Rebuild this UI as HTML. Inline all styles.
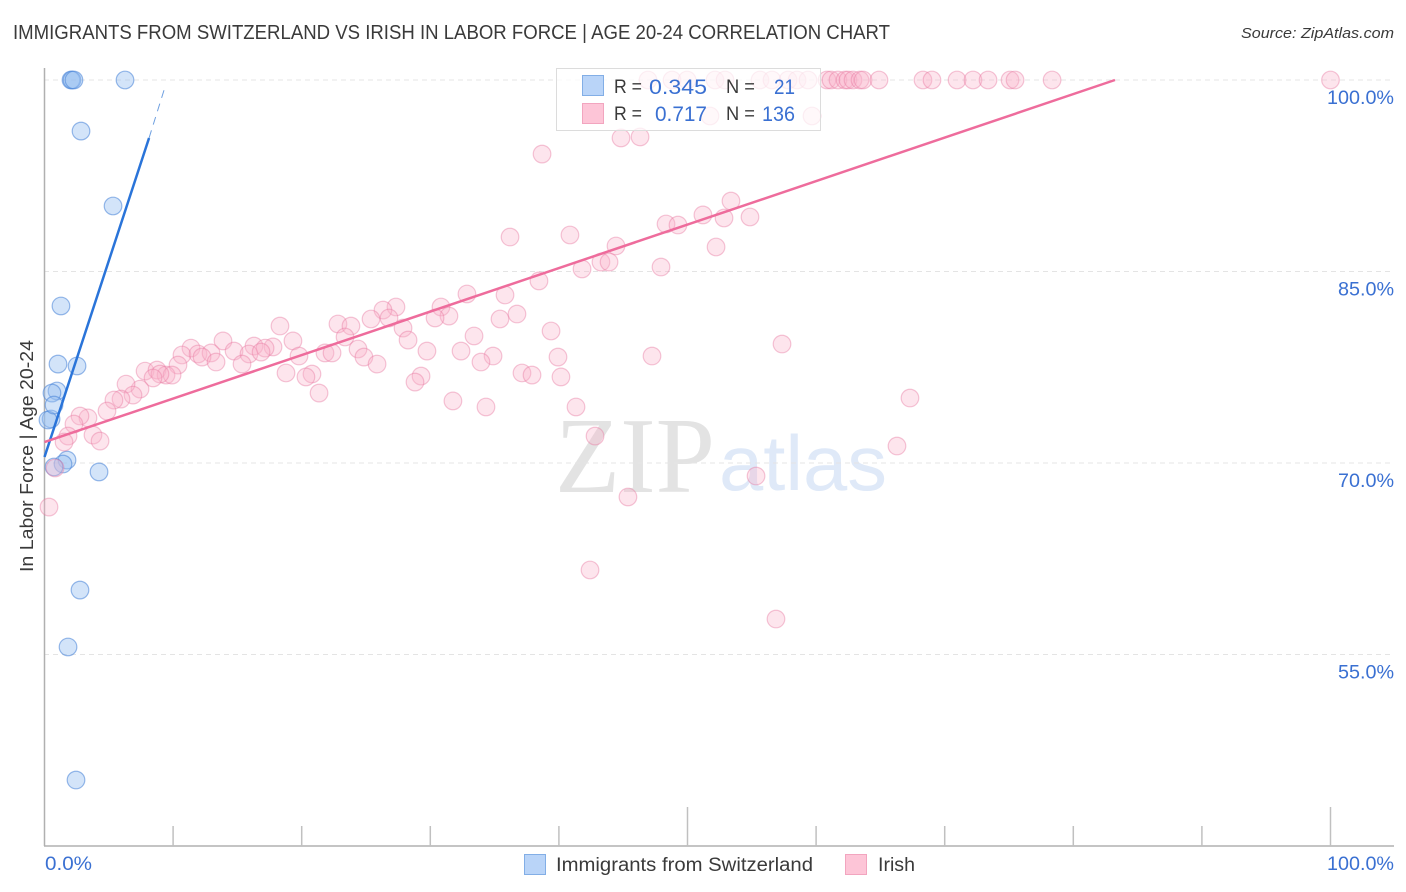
<!DOCTYPE html>
<html lang="en">
<head>
<meta charset="utf-8">
<title>Immigrants from Switzerland vs Irish in Labor Force | Age 20-24 Correlation Chart</title>
<style>
html,body{margin:0;padding:0;background:#fff;width:1406px;height:892px;overflow:hidden}
svg{display:block}
text{font-family:"Liberation Sans",sans-serif}
</style>
</head>
<body>
<svg id="chart" width="1406" height="892" viewBox="0 0 1406 892" xmlns="http://www.w3.org/2000/svg">
  <text x="13" y="39" font-size="20" fill="#3a3a3a" textLength="877" lengthAdjust="spacingAndGlyphs">IMMIGRANTS FROM SWITZERLAND VS IRISH IN LABOR FORCE | AGE 20-24 CORRELATION CHART</text>
  <text x="1394" y="38" font-size="15" font-style="italic" fill="#3a3a3a" text-anchor="end" textLength="153" lengthAdjust="spacingAndGlyphs">Source: ZipAtlas.com</text>
  <g>
    <text x="555" y="492" font-size="108" fill="#e3e3e3" textLength="160" lengthAdjust="spacingAndGlyphs" style="font-family:'Liberation Serif',serif">ZIP</text>
    <text x="719" y="490" font-size="78" fill="#dfe9f8" textLength="168" lengthAdjust="spacingAndGlyphs">atlas</text>
  </g>
  <g id="grid"></g>
  <g id="axes">
    <line x1="44.5" y1="68" x2="44.5" y2="846" stroke="#b0b0b0" stroke-width="1.5"></line>
    <line x1="44" y1="846" x2="1394" y2="846" stroke="#b0b0b0" stroke-width="1.5"></line>
  </g>
  <g id="ticks"></g>
  <g id="points-blue"></g>
  <g id="points-pink"></g>
  <g id="trends"></g>
  <text x="0" y="0" transform="translate(33,456) rotate(-90)" font-size="18" fill="#3a3a3a" text-anchor="middle" textLength="232" lengthAdjust="spacingAndGlyphs">In Labor Force | Age 20-24</text>

  <g>
    <rect x="556.5" y="68.5" width="264" height="62" fill="#fff" fill-opacity="0.72" stroke="#dcdcdc" stroke-width="1"></rect>
    <rect x="582.5" y="75.5" width="21" height="20" fill="#b9d4f8" stroke="#82aee6"></rect>
    <rect x="582.5" y="103.5" width="21" height="20" fill="#fdc5d7" stroke="#f2a5bf"></rect>
    <text x="614" y="93" font-size="19" fill="#3a3a3a" textLength="28" lengthAdjust="spacingAndGlyphs">R =</text>
    <text x="707" y="94" font-size="21" fill="#3a70d2" text-anchor="end" textLength="58" lengthAdjust="spacingAndGlyphs">0.345</text>
    <text x="726" y="93" font-size="19" fill="#3a3a3a" textLength="29" lengthAdjust="spacingAndGlyphs">N =</text>
    <text x="795" y="94" font-size="21" fill="#3a70d2" text-anchor="end" textLength="21" lengthAdjust="spacingAndGlyphs">21</text>
    <text x="614" y="120" font-size="19" fill="#3a3a3a" textLength="28" lengthAdjust="spacingAndGlyphs">R =</text>
    <text x="707" y="121" font-size="21" fill="#3a70d2" text-anchor="end" textLength="52" lengthAdjust="spacingAndGlyphs">0.717</text>
    <text x="726" y="120" font-size="19" fill="#3a3a3a" textLength="29" lengthAdjust="spacingAndGlyphs">N =</text>
    <text x="795" y="121" font-size="21" fill="#3a70d2" text-anchor="end" textLength="33" lengthAdjust="spacingAndGlyphs">136</text>
  </g>

  <g>
    <g>
      <rect x="524.5" y="854.5" width="21" height="20" fill="#b9d4f8" stroke="#82aee6"></rect>
      <text x="556" y="871" font-size="19" fill="#3a3a3a" textLength="257" lengthAdjust="spacingAndGlyphs">Immigrants from Switzerland</text>
    </g>
    <g>
      <rect x="845.5" y="854.5" width="21" height="20" fill="#fdc5d7" stroke="#f2a5bf"></rect>
      <text x="878" y="871" font-size="19" fill="#3a3a3a" textLength="37" lengthAdjust="spacingAndGlyphs">Irish</text>
    </g>
  </g>
</svg>
<script>
var yGridValues = [100, 85, 70, 55];
var xTickValues = [0, 10, 20, 30, 40, 50, 60, 70, 80, 90, 100];
var xMajorTicks = [50, 100];
var xTickLabels = [0, 100];
var yTickLabels = [100, 85, 70, 55];

var blueX = [2.06,2.14,2.29,6.26,2.84,5.33,1.28,1.05,2.53,0.97,0.58,0.51,0.27,0.74,1.75,1.44,0.74,4.24,2.76,1.83,2.45];
var blueY = [100,100,100,100,96.0,90.13,82.3,77.75,77.6,75.64,75.48,73.45,73.37,74.54,70.23,69.92,69.69,69.3,60.05,55.59,45.17];

var irishX = [46.93,48.8,49.97,52.14,52.92,55.64,56.57,57.82,58.52,59.37,60.85,61.16,61.7,62.25,62.48,62.87,63.41,63.65,64.89,68.31,69.01,70.96,72.2,73.37,75.08,75.47,78.35,100,
51.75,59.68,44.83,46.31,38.69,53.38,51.2,52.84,54.86,48.33,
49.26,36.2,40.86,44.44,52.22,43.27,43.9,41.8,47.94,38.45,
32.85,35.81,30.83,27.33,26.32,25.39,26.79,31.45,30.37,35.42,
36.74,18.31,22.82,23.83,27.88,39.39,19.32,23.37,28.27,33.4,
13.88,57.35,11.39,16.29,17.77,17.15,32.39,29.74,24.38,14.74,
10.69,11.94,12.95,12.25,15.9,16.84,19.79,21.81,22.36,24.84,
39.93,47.24,34.88,33.94,25.86,13.34,15.36,10.38,7.82,8.75,
9.45,9.92,8.98,8.44,18.78,20.8,20.33,29.28,28.81,40.16,
37.13,37.91,21.35,7.43,6.34,6.88,5.95,5.4,67.3,31.76,
34.33,41.33,4.86,3.38,2.76,2.29,1.83,1.52,3.77,4.32,
42.81,66.29,55.33,0.82,45.37,0.35,42.42,56.88];
var irishY = [100,100,100,100,100,100,100,100,100,100,100,100,100,100,100,100,100,100,100,100,100,100,100,100,100,100,100,100,
97.18,97.18,95.46,95.54,94.2,90.52,89.43,89.19,89.27,88.72,
88.64,87.7,87.86,87.0,86.92,85.74,85.74,85.2,85.35,84.26,
83.24,83.16,82.22,82.22,81.98,81.28,81.36,81.51,81.36,81.28,
81.67,80.73,80.89,80.73,80.57,80.34,79.56,79.87,79.63,79.95,
79.56,79.32,79.0,79.16,79.09,79.0,78.77,78.77,78.93,78.77,
78.46,78.54,78.62,78.3,78.54,78.69,78.38,78.62,78.62,78.3,
78.3,78.38,78.38,77.91,77.75,77.91,77.75,77.67,77.2,77.28,
76.89,76.89,76.97,76.66,77.05,76.97,76.74,76.81,76.34,76.74,
77.05,76.89,75.48,75.79,76.18,75.32,75.01,74.93,75.09,74.86,
74.39,74.39,74.07,73.53,73.68,73.05,72.11,71.64,72.19,71.72,
72.11,71.33,68.98,69.61,67.34,66.55,61.62,57.78];

var blueTrendX = [0, 8.13];
var blueTrendY = [70.47, 95.46];
var blueTrendExtX = [8.13, 9.37];
var blueTrendExtY = [95.46, 99.45];
var irishTrendX = [0, 83.24];
var irishTrendY = [71.64, 100];

function xScale(v) { return 44.5 + v * 12.86; }
function yScale(v) { return 80 + (100 - v) * 12.767; }

var NS = 'http://www.w3.org/2000/svg';
function make(tag, parentId, attrs, txt) {
  var el = document.createElementNS(NS, tag);
  for (var k in attrs) el.setAttribute(k, attrs[k]);
  if (txt !== undefined) el.textContent = txt;
  document.getElementById(parentId).appendChild(el);
  return el;
}

yGridValues.forEach(function (v) {
  var el = make('line', 'grid', {x1: 44, x2: 1394, y1: yScale(v), y2: yScale(v), stroke: '#e4e4e4', 'stroke-width': 1, 'stroke-dasharray': '5 4'});
  
  
});

xTickValues.forEach(function (v) {
  var top = xMajorTicks.indexOf(v) >= 0 ? 807 : 826;
  if (v === 0) return;
  var el = make('line', 'ticks', {x1: xScale(v), x2: xScale(v), y1: top, y2: 846, stroke: '#c0c0c0', 'stroke-width': 1.5});
  
  
});

yTickLabels.forEach(function (v) {
  var el = make('text', 'ticks', {x: 1394, y: yScale(v) + 24, 'font-size': 19, fill: '#3a70d2', 'text-anchor': 'end', textLength: v === 100 ? 67 : 56, lengthAdjust: 'spacingAndGlyphs'}, v.toFixed(1) + '%');
  
  
});

xTickLabels.forEach(function (v) {
  var el = make('text', 'ticks', {x: v === 0 ? 45 : 1394, y: 870, 'font-size': 19, fill: '#3a70d2', 'text-anchor': v === 0 ? 'start' : 'end', textLength: v === 100 ? 67 : 47, lengthAdjust: 'spacingAndGlyphs'}, v.toFixed(1) + '%');
  
  
});

blueX.forEach(function (v, i) {
  var el = make('circle', 'points-blue', {cx: xScale(v), cy: yScale(blueY[i]), r: 8.8, fill: 'rgba(150,190,240,0.42)', stroke: 'rgba(70,130,215,0.55)', 'stroke-width': 1.2});
  
  
});

irishX.forEach(function (v, i) {
  var el = make('circle', 'points-pink', {cx: xScale(v), cy: yScale(irishY[i]), r: 8.8, fill: 'rgba(250,180,203,0.34)', stroke: 'rgba(232,120,160,0.42)', 'stroke-width': 1.2});
  
  
});

var blueLine = make('line', 'trends', {x1: xScale(blueTrendX[0]), y1: yScale(blueTrendY[0]), x2: xScale(blueTrendX[1]), y2: yScale(blueTrendY[1]), stroke: '#2a74d9', 'stroke-width': 2.5});



var blueExt = make('line', 'trends', {x1: xScale(blueTrendExtX[0]), y1: yScale(blueTrendExtY[0]), x2: xScale(blueTrendExtX[1]), y2: yScale(blueTrendExtY[1]), stroke: '#6d9fe0', 'stroke-width': 1, 'stroke-dasharray': '8 6'});



var pinkLine = make('line', 'trends', {x1: xScale(irishTrendX[0]), y1: yScale(irishTrendY[0]), x2: xScale(irishTrendX[1]), y2: yScale(irishTrendY[1]), stroke: '#ee6c9c', 'stroke-width': 2.5});


</script>
</body>
</html>
